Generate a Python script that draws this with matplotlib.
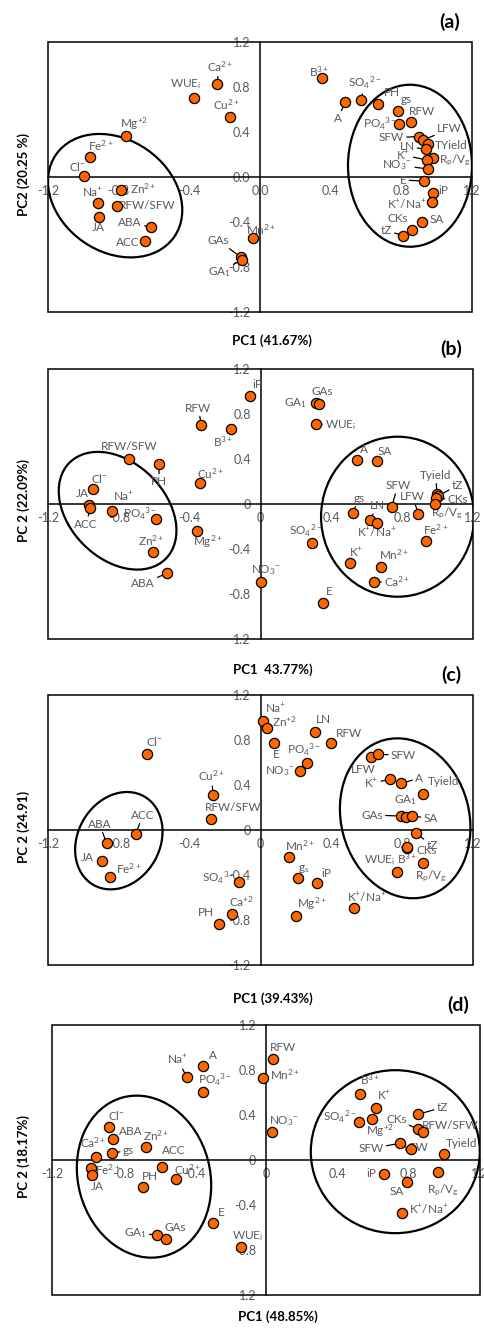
import matplotlib
matplotlib.use("Agg")
import matplotlib.pyplot as plt
from matplotlib import transforms
from matplotlib.patches import Ellipse, Rectangle

plt.rcParams['font.family'] = ['Lato', 'DejaVu Sans']
plt.rcParams['mathtext.fontset'] = 'custom'
plt.rcParams['mathtext.rm'] = 'Lato'
plt.rcParams['mathtext.it'] = 'Lato:italic'
plt.rcParams['mathtext.bf'] = 'Lato:bold'

GREY = '#595959'
ORANGE = '#FF6600'
W, H = 484, 1328

# label strings used in several panels
CA = r'Ca$^{2+}$'
CU = r'Cu$^{2+}$'
FE = r'Fe$^{2+}$'
MN = r'Mn$^{2+}$'
ZN = r'Zn$^{2+}$'
MG = r'Mg$^{2+}$'
B3 = r'B$^{3+}$'
NA = r'Na$^{+}$'
K = r'K$^{+}$'
KNA = r'K$^{+}$/Na$^{+}$'
CL = r'Cl$^{-}$'
NO3 = r'NO$_{3}$$^{-}$'
PO4 = r'PO$_{4}$$^{3-}$'
SO4 = r'SO$_{4}$$^{2-}$'
WUE = r'WUE$_{\mathrm{i}}$'
GA1 = r'GA$_{1}$'
RPVG = r'R$_{\mathrm{p}}$/V$_{\mathrm{g}}$'

TICKS = [-1.2, -0.8, -0.4, 0, 0.4, 0.8, 1.2]

# ---------------- panel (a) ----------------
a_names = [CA, WUE, CU, r'Mg$^{+2}$', FE, CL, ZN, NA, 'RFW/SFW', 'JA', 'ABA', 'ACC',
           MN, 'GAs', GA1, B3, 'A', SO4, 'PH', 'gs', 'RFW', PO4, 'SFW', 'LFW',
           'TYield', 'LN', RPVG, K, NO3, 'E', 'iP', KNA, 'SA', 'CKs', 'tZ']
a_pc1 = [-0.245, -0.375, -0.17, -0.758, -0.962, -0.996, -0.785, -0.919, -0.807, -0.909,
         -0.617, -0.651, -0.041, -0.106, -0.10, 0.349, 0.481, 0.572, 0.666, 0.783,
         0.853, 0.787, 0.902, 0.925, 0.953, 0.94, 0.977, 0.943, 0.953, 0.93,
         0.981, 0.972, 0.915, 0.86, 0.811]
a_pc2 = [0.824, 0.705, 0.533, 0.367, 0.175, 0.012, -0.113, -0.231, -0.258, -0.353,
         -0.447, -0.566, -0.545, -0.715, -0.735, 0.883, 0.667, 0.684, 0.649, 0.59,
         0.486, 0.471, 0.359, 0.329, 0.293, 0.249, 0.172, 0.151, 0.071, -0.036,
         -0.139, -0.219, -0.403, -0.471, -0.521]
a_xticklabels = ['-1.2', '-0.8', '-0.4', '0.0', '0.4', '0.8', '1.2']
a_yticklabels = ['-1.2', '-0.8', '-0.4', '0.0', '0.4', '0.8', '1.2']

# ---------------- panel (b) ----------------
b_names = ['iP', 'RFW', B3, 'RFW/SFW', 'PH', CU, CL, 'JA', 'ACC', NA, PO4, MG, ZN,
           'ABA', NO3, GA1, 'GAs', WUE, 'A', 'SA', 'gs', 'LN', KNA, 'SFW', 'LFW',
           'Tyield', 'tZ', 'CKs', RPVG, FE, SO4, K, MN, CA, 'E']
b_pc1 = [-0.06, -0.334, -0.166, -0.741, -0.573, -0.341, -0.947, -0.971, -0.962, -0.839,
         -0.59, -0.358, -0.607, -0.528, 0.004, 0.311, 0.33, 0.311, 0.543, 0.656,
         0.521, 0.617, 0.656, 0.741, 0.892, 0.996, 1.005, 0.99, 0.987, 0.934,
         0.292, 0.506, 0.683, 0.642, 0.355]
b_pc2 = [0.96, 0.702, 0.664, 0.4, 0.356, 0.184, 0.133, -0.009, -0.038, -0.06,
         -0.133, -0.237, -0.43, -0.617, -0.69, 0.895, 0.889, 0.711, 0.391, 0.382,
         -0.083, -0.14, -0.166, -0.024, -0.086, 0.086, 0.071, 0.05, 0.0, -0.326,
         -0.344, -0.522, -0.557, -0.696, -0.878]
b_xticklabels = ['-1.2', '-0.8', '-0.4', '0', '0.4', '0.8', '1.2']
b_yticklabels = ['1.2', '-0.8', '-0.4', '0', '0.4', '0.8', '1.2']

# ---------------- panel (c) ----------------
c_names = [CL, CU, 'RFW/SFW', 'ACC', 'ABA', 'JA', FE, r'SO$_{4}$$^{3-}$', r'Ca$^{+2}$', 'PH',
           NA, r'Zn$^{+2}$', 'E', 'LN', 'RFW', PO4, NO3, 'LFW', 'SFW', K, 'A',
           'Tyield', 'GAs', GA1, 'SA', 'tZ', 'CKs', B3, WUE, RPVG, MN,
           r'g$_{\mathrm{s}}$', 'iP', MG, KNA]
c_pc1 = [-0.643, -0.267, -0.28, -0.705, -0.869, -0.895, -0.85, -0.12, -0.163, -0.234,
         0.012, 0.035, 0.078, 0.308, 0.397, 0.261, 0.223, 0.624, 0.666, 0.732,
         0.794, 0.92, 0.794, 0.82, 0.854, 0.879, 0.826, 0.83, 0.77, 0.916,
         0.161, 0.214, 0.321, 0.2, 0.528]
c_pc2 = [0.673, 0.311, 0.095, -0.038, -0.118, -0.276, -0.42, -0.459, -0.747, -0.839,
         0.969, 0.904, 0.776, 0.874, 0.776, 0.593, 0.524, 0.652, 0.673, 0.451,
         0.415, 0.32, 0.124, 0.12, 0.127, -0.03, -0.163, -0.15, -0.37, -0.296,
         -0.243, -0.43, -0.468, -0.764, -0.696]
c_xticklabels = ['-1.2', '-0.8', '-0.4', '0', '0.4', '0.8', '1.2']
c_yticklabels = ['-1.2', '-0.8', '-0.4', '0', '0.4', '0.8', '1.2']

# ---------------- panel (d) ----------------
d_names = [NA, 'A', PO4, CL, 'ABA', ZN, 'gs', CA, FE, 'JA', 'ACC', CU, 'PH', 'E',
           GA1, 'GAs', WUE, 'RFW', MN, NO3, B3, K, SO4, r'Mg$^{+2}$', 'tZ', 'CKs',
           'RFW/SFW', 'SFW', 'LFW', 'Tyield', 'iP', 'SA', RPVG, KNA]
d_pc1 = [-0.445, -0.352, -0.352, -0.879, -0.856, -0.673, -0.862, -0.953, -0.983, -0.978,
         -0.585, -0.505, -0.688, -0.299, -0.61, -0.561, -0.142, 0.041, -0.019, 0.032,
         0.527, 0.617, 0.523, 0.593, 0.854, 0.854, 0.879, 0.752, 0.811, 1.0,
         0.664, 0.793, 0.967, 0.761]
d_pc2 = [0.741, 0.839, 0.607, 0.296, 0.187, 0.113, 0.06, 0.024, -0.068, -0.133,
         -0.059, -0.172, -0.243, -0.563, -0.667, -0.702, -0.776, 0.895, 0.732, 0.252,
         0.587, 0.459, 0.34, 0.361, 0.406, 0.273, 0.252, 0.148, 0.095, 0.05,
         -0.124, -0.198, -0.11, -0.474]
d_xticklabels = ['-1.2', '-0.8', '-0.4', '0', '0.4', '0.8', '1.2']
d_yticklabels = ['1.2', '-0.8', '-0.4', '0', '0.4', '0.8', '1.2']

# label offsets in pixels (right, down) and whether a leader line is drawn
a_off = [(3, -18), (-8, -14), (-3, -12), (8, -12), (11, -12), (-7, -9), (22, -1), (-5, -11),
         (30, -1), (-1, 11), (-21, -5), (-17, 2), (8, -9), (-23, -17), (-23, 12), (-3, -6),
         (-7, 17), (4, -17), (14, -11), (8, -11), (11, -11), (-19, 0), (-28, 1), (26, -11),
         (23, 1), (-19, -2), (22, 3), (-23, -5), (-31, -4), (-21, -1), (10, -2), (-25, 3),
         (15, -3), (-14, -11), (-17, -5)]
a_lead = [1, 0, 0, 0, 0, 0, 1, 0, 0, 0, 1, 0, 0, 1, 1, 0, 1, 1, 0, 0, 0, 0, 1, 1,
          0, 1, 1, 1, 1, 1, 0, 1, 0, 0, 1]
b_off = [(7, -12), (-3, -17), (-8, 12), (0, -12), (0, 18), (10, -10), (7, -11), (-6, -12),
         (-4, 16), (12, -14), (-16, -5), (11, 11), (-2, -12), (-24, 10), (5, -12), (-20, 0),
         (3, -12), (25, 1), (7, -11), (8, -10), (6, -15), (8, -14), (0, 10), (6, -21),
         (-6, -17), (-1, -19), (19, -11), (22, 1), (12, 9), (10, -11), (-7, -12), (6, -10),
         (13, -12), (23, -1), (6, -11)]
b_lead = [0, 1, 0, 0, 1, 0, 0, 0, 1, 0, 0, 0, 0, 1, 0, 0, 0, 1, 0, 0, 1, 1, 0, 1,
          1, 1, 1, 1, 0, 0, 0, 0, 0, 1, 0]
c_off = [(8, -13), (-2, -19), (22, -12), (7, -19), (-7, -19), (-15, -4), (19, -9), (-21, -4),
         (10, -12), (-13, -12), (13, -13), (18, -7), (2, 12), (8, -12), (18, -9), (-3, -13),
         (-20, 0), (-8, 13), (25, 1), (-19, 4), (18, -5), (20, -13), (-29, -1), (0, -16),
         (19, 3), (16, 12), (20, 2), (0, 12), (-17, -12), (8, 13), (11, -12), (5, -9),
         (9, -9), (16, -12), (13, -11)]
c_lead = [0, 1, 0, 1, 1, 0, 0, 0, 0, 0, 0, 0, 0, 0, 0, 0, 0, 0, 1, 1, 1, 0, 1, 0,
          1, 1, 0, 0, 0, 0, 0, 0, 0, 0, 0]
d_off = [(-9, -17), (10, -10), (12, -12), (7, -11), (17, -7), (10, -12), (16, -3), (-3, -15),
         (17, 2), (6, 12), (12, -16), (12, -10), (7, -11), (9, -11), (-22, -2), (9, -11),
         (7, -11), (10, -12), (22, -3), (12, -11), (10, -14), (8, -13), (-20, -5), (8, 11),
         (24, -7), (-22, -10), (27, -6), (-29, 5), (6, -2), (17, -11), (-13, 0), (-11, 9),
         (5, 18), (27, -4)]
d_lead = [1, 0, 0, 0, 0, 0, 1, 1, 1, 0, 0, 0, 0, 0, 1, 0, 0, 0, 0, 0, 0, 0, 0, 0,
          1, 1, 0, 1, 0, 0, 0, 0, 0, 0]

# group ellipses: centre (data), width/height (pixels), angle
a_ell = [((-0.82, -0.166), 144, 112, -35), ((0.849, 0.10), 124, 162, 0)]
b_ell = [((-0.807, -0.06), 136, 96, -45), ((0.774, -0.113), 153, 160, 0)]
c_ell = [((-0.80, -0.095), 102, 82, 60), ((0.817, 0.104), 128, 162, 15)]
d_ell = [((-0.684, -0.148), 132, 164, 15), ((0.725, 0.074), 169, 163, 0)]


def draw_panel(fig, box, letter, xlab, ylab, xlab_gap, names, pc1, pc2, off, lead,
               xtl, ytl, ells):
    left, top, right, bottom = box
    ax = fig.add_axes([left / W, 1 - bottom / H, (right - left) / W, (bottom - top) / H])
    ax.set_xlim(-1.2, 1.2)
    ax.set_ylim(-1.2, 1.2)
    ax.spines['left'].set_position(('data', 0))
    ax.spines['bottom'].set_position(('data', 0))
    ax.spines['top'].set_visible(False)
    ax.spines['right'].set_visible(False)
    for s in ['left', 'bottom']:
        ax.spines[s].set_linewidth(1.1)
    ax.add_patch(Rectangle((0, 0), 1, 1, transform=ax.transAxes, fill=False,
                           ec='black', lw=1.1, clip_on=False, zorder=6))

    ax.set_xticks(TICKS)
    ax.set_xticklabels(xtl)
    ax.set_yticks(TICKS)
    ax.set_yticklabels(ytl)
    ax.tick_params(length=0, labelsize=9, labelcolor=GREY)
    ax.tick_params(axis='x', pad=6)
    ax.tick_params(axis='y', pad=7)

    ax.scatter(pc1, pc2, s=54, c=ORANGE, edgecolors='black', linewidths=0.9,
               zorder=4, clip_on=False)

    for name, x, y, (dx, dy), ld in zip(names, pc1, pc2, off, lead):
        arrow = None
        if ld:
            arrow = dict(arrowstyle='-', color='black', lw=0.9, shrinkA=0, shrinkB=0)
        ax.annotate(name, (x, y), xytext=(dx, -dy), textcoords='offset pixels',
                    ha='center', va='center', fontsize=8.5, color=GREY,
                    arrowprops=arrow, zorder=3)

    # ellipses drawn in pixel units around a data centre
    for (cx, cy), ew, eh, ang in ells:
        tr = fig.dpi_scale_trans + transforms.ScaledTranslation(cx, cy, ax.transData)
        ax.add_patch(Ellipse((0, 0), ew / 100, eh / 100, angle=ang, transform=tr,
                             fill=False, ec='black', lw=1.6, zorder=2))

    xc = (left + right) / 2 + 12
    fig.text(xc / W, 1 - (bottom + xlab_gap) / H, xlab, ha='center', va='center',
             fontsize=9.5, fontweight='bold')
    fig.text(24 / W, 1 - ((top + bottom) / 2 - 3) / H, ylab, ha='center', va='center',
             rotation=90, fontsize=9.5, fontweight='bold')
    fig.text((right - 22) / W, 1 - (top - 20) / H, letter, ha='center', va='center',
             fontsize=14, fontweight='bold')
    return ax


fig = plt.figure(figsize=(W / 100, H / 100), dpi=100)

draw_panel(fig, (48, 42, 472, 312), '(a)', 'PC1 (41.67%)', 'PC2 (20.25 %)', 29,
           a_names, a_pc1, a_pc2, a_off, a_lead, a_xticklabels, a_yticklabels, a_ell)
draw_panel(fig, (48, 369, 473, 639), '(b)', 'PC1  43.77%)', 'PC 2 (22.09%)', 31,
           b_names, b_pc1, b_pc2, b_off, b_lead, b_xticklabels, b_yticklabels, b_ell)
draw_panel(fig, (48, 695, 473, 965), '(c)', 'PC1 (39.43%)', 'PC 2 (24.91)', 34,
           c_names, c_pc1, c_pc2, c_off, c_lead, c_xticklabels, c_yticklabels, c_ell)
draw_panel(fig, (52, 1025, 480, 1295), '(d)', 'PC1 (48.85%)', 'PC 2 (18.17%)', 22,
           d_names, d_pc1, d_pc2, d_off, d_lead, d_xticklabels, d_yticklabels, d_ell)

fig.savefig('out.png', dpi=100)
